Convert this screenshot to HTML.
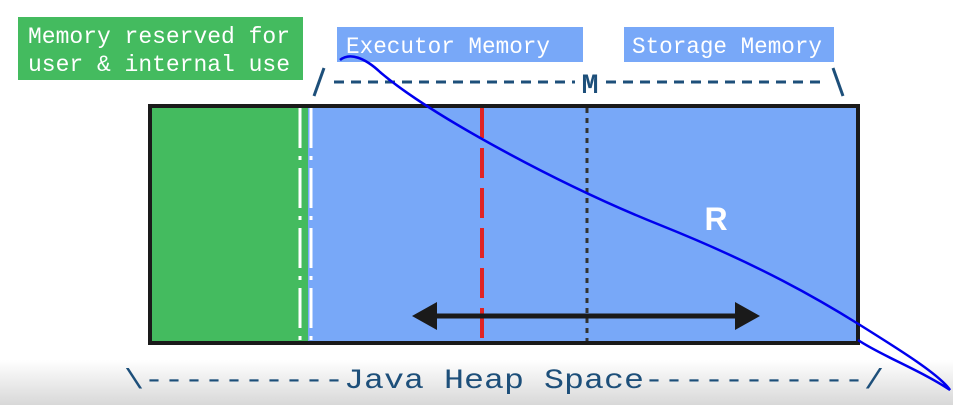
<!DOCTYPE html>
<html><head><style>
body{margin:0;width:953px;height:405px;overflow:hidden;background:#fff;}
</style></head><body>
<svg width="953" height="405" viewBox="0 0 953 405" xmlns="http://www.w3.org/2000/svg" font-family="Liberation Mono, monospace">
<defs><linearGradient id="g" x1="0" y1="0" x2="0" y2="1"><stop offset="0" stop-color="#fff"/><stop offset="1" stop-color="#d8d8d8"/></linearGradient></defs>
<rect x="0" y="360" width="953" height="45" fill="url(#g)"/>
<rect x="18" y="17" width="285" height="63" fill="#44bb5f"/>
<text x="28" y="43" fill="#fff" font-size="23" textLength="262" lengthAdjust="spacingAndGlyphs">Memory reserved for</text>
<text x="28" y="71" fill="#fff" font-size="23" textLength="262" lengthAdjust="spacingAndGlyphs">user &amp; internal use</text>
<rect x="337" y="27" width="246" height="35" fill="#78a8f8"/>
<text x="346" y="53" fill="#fff" font-size="23" textLength="204" lengthAdjust="spacingAndGlyphs">Executor Memory</text>
<rect x="624" y="27" width="210" height="35" fill="#78a8f8"/>
<text x="632" y="53" fill="#fff" font-size="23" textLength="190" lengthAdjust="spacingAndGlyphs">Storage Memory</text>
<line x1="314" y1="96" x2="324" y2="68" stroke="#1d4f7a" stroke-width="3"/>
<line x1="334" y1="82" x2="575" y2="82" stroke="#1d4f7a" stroke-width="3" stroke-dasharray="10,7"/>
<text x="590" y="93" fill="#1d4f7a" font-size="28" font-weight="bold" text-anchor="middle">M</text>
<line x1="606" y1="82" x2="826" y2="82" stroke="#1d4f7a" stroke-width="3" stroke-dasharray="10,7"/>
<line x1="833" y1="68" x2="843" y2="96" stroke="#1d4f7a" stroke-width="3"/>
<rect x="150" y="106" width="708" height="237" fill="#78a8f8" stroke="#1a1a1a" stroke-width="4"/>
<rect x="152" y="108" width="156" height="233" fill="#44bb5f"/>
<line x1="300" y1="108" x2="300" y2="342" stroke="#fff" stroke-width="3" stroke-dasharray="40,8,4,8"/>
<line x1="311" y1="108" x2="311" y2="342" stroke="#fff" stroke-width="3" stroke-dasharray="40,8,4,8"/>
<line x1="482" y1="108" x2="482" y2="341" stroke="#e02424" stroke-width="4" stroke-dasharray="30,10"/>
<line x1="587" y1="108" x2="587" y2="341" stroke="#333" stroke-width="3" stroke-dasharray="5,5"/>
<line x1="430" y1="316" x2="740" y2="316" stroke="#1a1a1a" stroke-width="5"/>
<polygon points="412,316 437,302 437,330" fill="#1a1a1a"/>
<polygon points="760,316 735,302 735,330" fill="#1a1a1a"/>
<text x="716" y="230" fill="#fff" font-size="32" font-weight="bold" font-family="Liberation Sans, sans-serif" text-anchor="middle">R</text>
<text x="504" y="388" fill="#1d4f7a" font-size="28" text-anchor="middle" textLength="760" lengthAdjust="spacingAndGlyphs">\----------Java Heap Space-----------/</text>
<path d="M340,60 C350,52 365,58 380,72 C430,115 560,185 660,225 C760,265 820,300 860,325 C900,350 940,375 950,390 C920,370 880,355 858,340" fill="none" stroke="#0000ee" stroke-width="2.5"/>
</svg>
</body></html>
